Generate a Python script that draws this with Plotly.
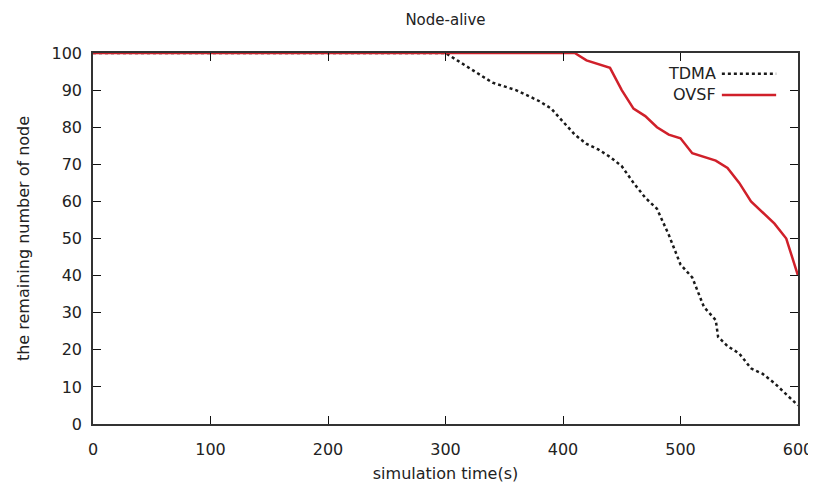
import plotly.graph_objects as go

# Data
tdma_t = [0, 100, 200, 300, 310, 320, 330, 340, 350, 360, 370, 380, 390, 400, 410, 420, 430,
          440, 450, 460, 470, 480, 490, 500, 510, 520, 530, 532, 540, 550, 560, 570, 580, 590, 600]
tdma_n = [100, 100, 100, 100, 98, 96, 94, 92, 91, 90, 88.5, 87, 85, 81.5, 78, 75.5, 74,
          72, 69.5, 65, 61, 58, 51, 43, 39.5, 31.5, 28, 23.5, 21, 19, 15, 13.5, 11, 8, 5]

ovsf_t = [0, 100, 200, 300, 400, 410, 420, 440, 450, 460, 470, 480, 490, 500, 510, 520, 530,
          540, 550, 560, 570, 580, 590, 600]
ovsf_n = [100, 100, 100, 100, 100, 100, 98, 96, 90, 85, 83, 80, 78, 77, 73, 72, 71,
          69, 65, 60, 57, 54, 50, 40]

x_ticks = [0, 100, 200, 300, 400, 500, 600]
y_ticks = [0, 10, 20, 30, 40, 50, 60, 70, 80, 90, 100]
series_names = ["TDMA", "OVSF"]

FONT = "DejaVu Sans"
TXT = "#222222"
RED = "#d0202a"

fig = go.Figure()
fig.add_trace(go.Scatter(x=tdma_t, y=tdma_n, mode="lines", name=series_names[0],
                         line=dict(color="#1a1a1a", width=2.5, dash="dot"), showlegend=False))
fig.add_trace(go.Scatter(x=ovsf_t, y=ovsf_n, mode="lines", name=series_names[1],
                         line=dict(color=RED, width=2.5), showlegend=False))

axis_common = dict(showgrid=False, zeroline=False, ticks="inside", ticklen=8, tickwidth=1.2,
                   tickcolor="#111", showline=True, linecolor="#333", linewidth=1.5,
                   mirror="allticks", tickfont=dict(family=FONT, size=16, color=TXT),
                   automargin=False)

fig.update_xaxes(range=[0, 600], tickvals=x_ticks, ticktext=[str(v) for v in x_ticks],
                 ticklabelstandoff=10,
                 title=dict(text="simulation time(s)", font=dict(family=FONT, size=16, color=TXT),
                            standoff=10), **axis_common)
fig.update_yaxes(range=[0, 100], tickvals=y_ticks, ticktext=[str(v) for v in y_ticks],
                 ticklabelstandoff=6,
                 title=dict(text="the remaining number of node", font=dict(family=FONT, size=16, color=TXT),
                            standoff=18), **axis_common)

# gnuplot-style legend: text right-aligned, sample line to its right
legend_rows = [(series_names[0], dict(color="#1a1a1a", width=2.5, dash="dot")),
               (series_names[1], dict(color=RED, width=2.5))]
for i, (name, ln) in enumerate(legend_rows):
    yy = 0.944 - i * 0.057
    fig.add_annotation(xref="paper", yref="paper", x=0.887, y=yy, text=name, showarrow=False,
                       xanchor="right", yanchor="middle",
                       font=dict(family=FONT, size=16, color=TXT))
    fig.add_shape(type="line", xref="paper", yref="paper", x0=0.892, x1=0.969, y0=yy, y1=yy,
                  line=ln)

fig.update_layout(
    width=808, height=477,
    margin=dict(l=85, r=18, t=45, b=61),
    paper_bgcolor="white", plot_bgcolor="white",
    title=dict(text="Node-alive", x=0.5, xanchor="center", y=1 - 12 / 477, yanchor="middle",
               xref="paper", font=dict(family=FONT, size=15, color=TXT)),
)

fig.write_html("out.html")
